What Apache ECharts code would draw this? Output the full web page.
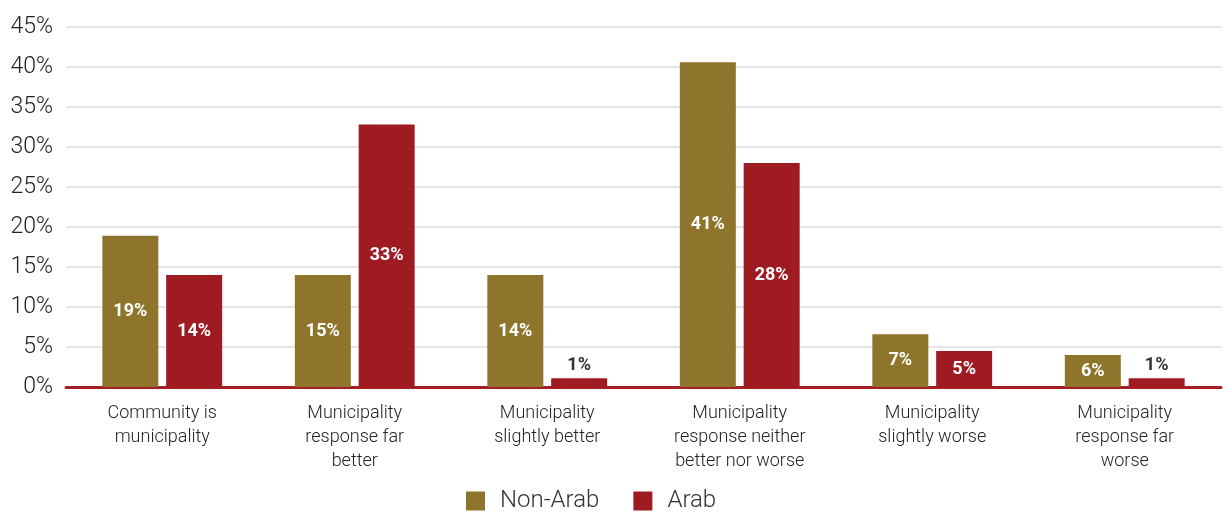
<!doctype html>
<html>
<head>
<meta charset="utf-8">
<title>Municipality response</title>
<style>
  html, body { margin: 0; padding: 0; background: #fff; }
  #main { width: 1227px; height: 516px; }
</style>
</head>
<body>
<div id="main"></div>
<script src="https://cdn.jsdelivr.net/npm/echarts@6/dist/echarts.min.js"></script>
<script>
var categories = [
    'Community is\nmunicipality',
    'Municipality\nresponse far\nbetter',
    'Municipality\nslightly better',
    'Municipality\nresponse neither\nbetter nor worse',
    'Municipality\nslightly worse',
    'Municipality\nresponse far\nworse'
];
// bar heights as drawn, and the printed labels
var nonArab = [18.9, 14, 14, 40.6, 6.6, 4];
var arab = [14, 32.8, 1.1, 28, 4.5, 1.1];
var nonArabLabels = ['19%', '15%', '14%', '41%', '7%', '6%'];
var arabLabels = ['14%', '33%', '1%', '28%', '5%', '1%'];

var font = 'Roboto, "DejaVu Sans", sans-serif';

function buildData(values, labels) {
    return values.map(function (v, i) {
        var small = v < 3;
        return {
            value: v,
            label: {
                show: true,
                position: small ? 'top' : 'inside',
                distance: 4,
                color: small ? '#333' : '#fff',
                fontWeight: 'bold',
                fontSize: 18,
                fontFamily: font,
                formatter: function () { return labels[i]; }
            }
        };
    });
}

var chart = echarts.init(document.getElementById('main'), null, { devicePixelRatio: 1 });

chart.setOption({
    animation: false,
    color: ['#8F752B', '#9E1B22'],
    grid: { left: 66, right: 6, top: 27, bottom: 129 },
    legend: {
        bottom: -2,
        left: 461,
        itemWidth: 19,
        itemHeight: 19,
        itemGap: 34,
        icon: 'rect',
        textStyle: { fontSize: 24, color: '#333', fontFamily: font, fontWeight: 300, padding: [0, 0, 0, 10] },
        data: ['Non-Arab', 'Arab']
    },
    xAxis: {
        type: 'category',
        data: categories,
        axisLine: { lineStyle: { color: '#A51E25', width: 3 } },
        axisTick: { show: false },
        axisLabel: {
            interval: 0,
            margin: 14,
            fontSize: 18,
            lineHeight: 24,
            color: '#222',
            fontFamily: font,
            fontWeight: 300
        }
    },
    yAxis: {
        type: 'value',
        min: 0,
        max: 45,
        interval: 5,
        axisLine: { show: false },
        axisTick: { show: false },
        splitLine: { lineStyle: { color: '#dcdcdc', width: 1.5 } },
        axisLabel: {
            margin: 13,
            fontSize: 23,
            color: '#222',
            fontFamily: font,
            fontWeight: 300,
            formatter: '{value}%'
        }
    },
    series: [
        {
            name: 'Non-Arab',
            type: 'bar',
            barWidth: 56,
            barGap: '14%',
            data: buildData(nonArab, nonArabLabels)
        },
        {
            name: 'Arab',
            type: 'bar',
            barWidth: 56,
            data: buildData(arab, arabLabels)
        }
    ]
});

window.onresize = chart.resize;
</script>
</body>
</html>
